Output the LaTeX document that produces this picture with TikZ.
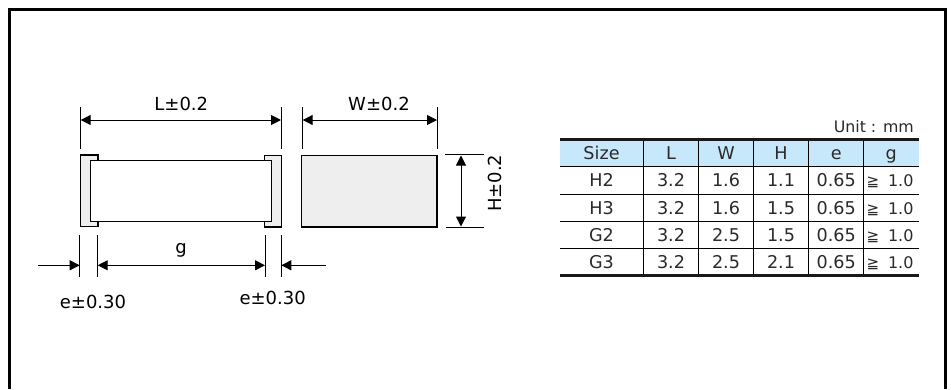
\documentclass[tikz,border=0pt]{standalone}
\usepackage{fontspec}
\setmainfont{DejaVu Sans}
\usetikzlibrary{arrows.meta}
\definecolor{headblue}{HTML}{C6E8FA}
\definecolor{termgray}{HTML}{EEEEEE}
\definecolor{celltext}{HTML}{2A2A2A}
\tikzset{
  x=1pt,y=-1pt,
  part/.style={draw=black,line width=1.3pt,fill=termgray,inner sep=0pt,minimum width=0pt,minimum height=0pt},
  extline/.style={draw=black,line width=0.8pt},
  dimline/.style={draw=black,line width=1pt},
  both/.style={dimline,{Triangle[length=10pt,width=10pt]}-{Triangle[length=10pt,width=10pt]}},
  toward/.style={dimline,-{Triangle[length=10pt,width=10pt]}},
  lbl/.style={font=\fontsize{18}{18}\selectfont,anchor=base,inner sep=0pt,text=black},
  cell/.style={font=\fontsize{17.6}{18}\selectfont,anchor=base,inner sep=0pt,text=celltext},
  unitlbl/.style={font=\fontsize{15.8}{16}\selectfont,anchor=base east,inner sep=0pt,text=celltext},
  rule/.style={draw=black,line width=0.9pt},
  thickrule/.style={draw=black!90,line width=3pt},
  frameline/.style={draw=black,line width=3pt}
}
\begin{document}
\begin{tikzpicture}
\useasboundingbox (0,0) rectangle (951,389);
\fill[white] (0,0) rectangle (951,389);
% frame, open at the bottom
\coordinate (fbl) at (9.5,389); \coordinate (ftl) at (9.5,9.5);
\coordinate (ftr) at (945.5,9.5); \coordinate (fbr) at (945.5,389);
\draw[frameline] (fbl) -- (ftl) -- (ftr) -- (fbr);

% component, side view
\path[part] (80.8,154.9) rectangle (98,226.7);
\path[part] (264.3,155.3) rectangle (281.7,227);
\path[part,fill=white] (90.3,160.3) rectangle (271.7,221.3);

% component, end view
\path[part] (301.7,155.3) rectangle (437,227);

% L dimension
\coordinate (la) at (80.7,107); \coordinate (lb) at (80.7,149);
\coordinate (lc) at (281,107);  \coordinate (ld) at (281,149);
\coordinate (le) at (80.7,120); \coordinate (lf) at (281,120);
\draw[extline] (la) -- (lb);
\draw[extline] (lc) -- (ld);
\draw[both] (le) -- (lf);
\node[lbl] (Llabel) at (181.3,110) {L±0.2};

% W dimension
\coordinate (wa) at (302.7,107); \coordinate (wb) at (302.7,149);
\coordinate (wc) at (437,107);   \coordinate (wd) at (437,149);
\coordinate (we) at (302.7,120); \coordinate (wf) at (437,120);
\draw[extline] (wa) -- (wb);
\draw[extline] (wc) -- (wd);
\draw[both] (we) -- (wf);
\node[lbl] (Wlabel) at (379,110) {W±0.2};

% H dimension
\coordinate (ha) at (445.3,154.7); \coordinate (hb) at (483.7,154.7);
\coordinate (hc) at (446,227.7);   \coordinate (hd) at (484,227.7);
\coordinate (he) at (461,155.5);   \coordinate (hf) at (461,226.5);
\draw[extline] (ha) -- (hb);
\draw[extline] (hc) -- (hd);
\draw[both] (he) -- (hf);
\node[lbl,rotate=90] (Hlabel) at (501.7,183.3) {H±0.2};

% e, g dimensions
\coordinate (ga) at (79.7,235);  \coordinate (gb) at (79.7,277.3);
\coordinate (gc) at (97.7,235);  \coordinate (gd) at (97.7,277.3);
\coordinate (ge) at (265,235);   \coordinate (gf) at (265,277.3);
\coordinate (gg) at (281.3,235); \coordinate (gh) at (281.3,277.3);
\coordinate (ar1) at (38.3,265.3); \coordinate (ar2) at (79.7,265.3);
\coordinate (ar3) at (97.7,265.3); \coordinate (ar4) at (265,265.3);
\coordinate (ar5) at (326,265.3);  \coordinate (ar6) at (281.3,265.3);
\draw[extline] (ga) -- (gb);
\draw[extline] (gc) -- (gd);
\draw[extline] (ge) -- (gf);
\draw[extline] (gg) -- (gh);
\draw[toward] (ar1) -- (ar2);
\draw[both] (ar3) -- (ar4);
\draw[toward] (ar5) -- (ar6);
\node[lbl] (glabel) at (181,253) {g};
\node[lbl] (e1label) at (93,308) {e±0.30};
\node[lbl] (e2label) at (272.7,304) {e±0.30};

% table
\node[unitlbl] (unit) at (914,132) {Unit : mm};
\fill[headblue] (560,139.5) rectangle (919,166.3);
\foreach \yy in {166.3,194,221.3,248.3}
  \draw[rule] (560,\yy) -- (919,\yy);
\foreach \xx in {643.3,698.7,753.3,808.7,863.7}
  \draw[rule] (\xx,139.5) -- (\xx,275);
\draw[thickrule] (560,139.3) -- (919,139.3);
\draw[thickrule] (560,275) -- (919,275);

\foreach \cx/\txt in {601.5/Size,671/L,726/W,781/H,836.2/e,891.3/g}
  \node[cell] at (\cx,159.3) {\txt};
\foreach \yy/\a/\b/\c/\d in {186.7/H2/3.2/1.6/1.1,214.3/H3/3.2/1.6/1.5,241.3/G2/3.2/2.5/1.5,268.3/G3/3.2/2.5/2.1}{
  \node[cell] at (601.5,\yy) {\a};
  \node[cell] at (671,\yy) {\b};
  \node[cell] at (726,\yy) {\c};
  \node[cell] at (781,\yy) {\d};
  \node[cell] at (836.2,\yy) {0.65};
  \node[cell] at (890,\yy) {{\fontsize{15}{15}\selectfont ≧}\hspace{9pt}{\fontsize{16}{16}\selectfont 1.0}};
}
\end{tikzpicture}
\end{document}
